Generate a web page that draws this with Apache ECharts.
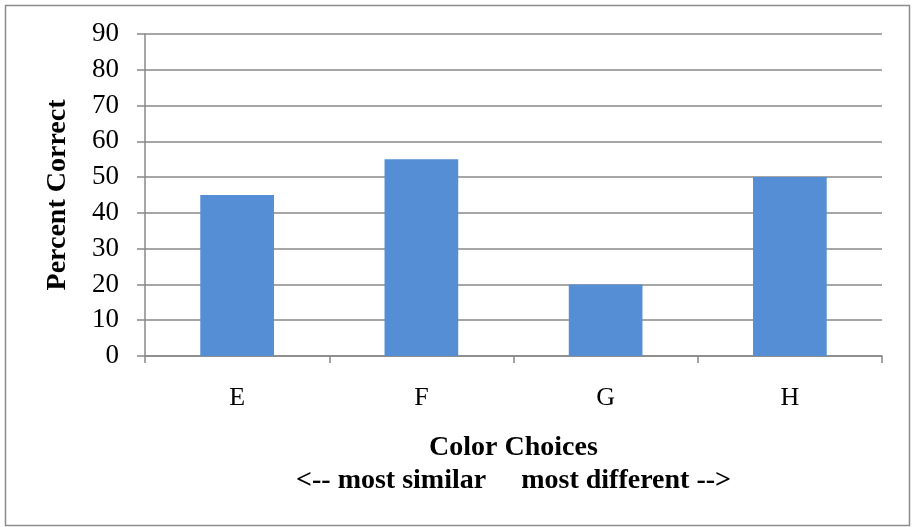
<!DOCTYPE html>
<html>
<head>
<meta charset="utf-8">
<script src="https://cdn.jsdelivr.net/npm/echarts@6/dist/echarts.min.js"></script>
<style>
  html, body { margin: 0; padding: 0; background: #fff; }
  #chart { width: 912px; height: 527px; }
</style>
</head>
<body>
<div id="chart"></div>
<script>
// Percent correct for each colour choice
const categories = ['E', 'F', 'G', 'H'];
const percentCorrect = [45, 55, 20, 50];
const yTicks = { min: 0, max: 90, interval: 10 };

const serif = '"Liberation Serif", "DejaVu Serif", serif';
const axisGray = '#888888';

const chart = echarts.init(document.getElementById('chart'));
chart.setOption({
  animation: false,
  backgroundColor: '#ffffff',
  graphic: [{
    type: 'rect',
    shape: { x: 5.5, y: 5.5, width: 904, height: 520 },
    style: { fill: 'none', stroke: '#8c8c8c', lineWidth: 1.5 },
    silent: true
  }],
  grid: { left: 145, right: 30, top: 34, bottom: 171, containLabel: false },
  xAxis: {
    type: 'category',
    data: categories,
    axisLine: { lineStyle: { color: axisGray, width: 1.5 } },
    axisTick: { show: true, length: 7, lineStyle: { color: axisGray, width: 1.5 } },
    axisLabel: { color: '#000', fontFamily: serif, fontSize: 26, margin: 29 },
    name: 'Color Choices\n<-- most similar     most different -->',
    nameLocation: 'middle',
    nameGap: 75,
    nameTextStyle: {
      color: '#000', fontFamily: serif, fontSize: 28, fontWeight: 'bold',
      lineHeight: 33, align: 'center'
    }
  },
  yAxis: {
    type: 'value',
    min: yTicks.min,
    max: yTicks.max,
    interval: yTicks.interval,
    axisLine: { show: true, lineStyle: { color: axisGray, width: 1.5 } },
    axisTick: { show: true, length: 8, lineStyle: { color: axisGray, width: 1.5 } },
    splitLine: { lineStyle: { color: axisGray, width: 1.5 } },
    axisLabel: { color: '#000', fontFamily: serif, fontSize: 27, margin: 26 },
    name: 'Percent Correct',
    nameLocation: 'middle',
    nameGap: 73,
    nameTextStyle: { color: '#000', fontFamily: serif, fontSize: 28, fontWeight: 'bold' }
  },
  series: [{
    type: 'bar',
    data: percentCorrect,
    barWidth: '40%',
    itemStyle: { color: '#558ED5' }
  }]
});
</script>
</body>
</html>
